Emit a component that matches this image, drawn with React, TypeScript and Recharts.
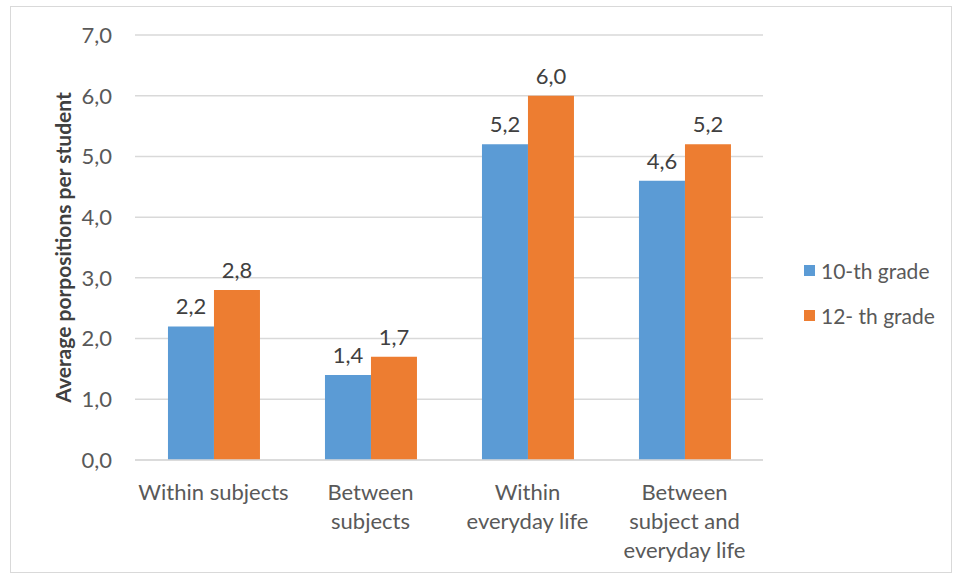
import { BarChart, Bar, XAxis, YAxis, CartesianGrid, LabelList } from 'recharts'

const categories = ['Within subjects', 'Between\nsubjects', 'Within\neveryday life', 'Between\nsubject and\neveryday life']
const grade10 = [2.2, 1.4, 5.2, 4.6]
const grade12 = [2.8, 1.7, 6.0, 5.2]
const yTicks = [0, 1, 2, 3, 4, 5, 6, 7]

const data = categories.map((name, i) => ({ name, g10: grade10[i], g12: grade12[i] }))

const FONT = 'Lato, "Open Sans", sans-serif'
const fmt = (v: number) => v.toFixed(1).replace('.', ',')

function CategoryTick(props: any) {
  const { x, y, payload } = props
  const lines = String(payload.value).split('\n')
  return (
    <text x={x} y={y + 32} textAnchor="middle" fill="#595959" fontSize={22} fontFamily={FONT}>
      {lines.map((l, i) => (
        <tspan key={i} x={x} dy={i === 0 ? 0 : 29}>{l}</tspan>
      ))}
    </text>
  )
}

function LegendBox() {
  const items = [
    { label: '10-th grade', color: '#5B9BD5' },
    { label: '12- th grade', color: '#ED7D31' },
  ]
  return (
    <div style={{ position: 'absolute', left: 804, top: 248, fontFamily: FONT, fontSize: 21, color: '#595959' }}>
      {items.map(it => (
        <div key={it.label} style={{ display: 'flex', alignItems: 'center', height: 45 }}>
          <span style={{ width: 11, height: 11, background: it.color, marginRight: 6, display: 'inline-block' }} />
          {it.label}
        </div>
      ))}
    </div>
  )
}

export default function App() {
  return (
    <div style={{ position: 'absolute', left: 0, top: 0, width: 958, height: 578, background: '#fff' }}>
      <div style={{ position: 'absolute', left: 10, top: 6, width: 940, height: 565, border: '1px solid #d9d9d9' }} />
      <BarChart
        width={958}
        height={578}
        data={data}
        margin={{ top: 35, right: 195, bottom: 0, left: 0 }}
        barCategoryGap="21%"
        barGap={0}
      >
        <CartesianGrid vertical={false} stroke="#d9d9d9" strokeWidth={1.5} />
        <XAxis
          dataKey="name"
          tick={<CategoryTick />}
          tickLine={false}
          axisLine={{ stroke: '#d9d9d9', strokeWidth: 1.5 }}
          interval={0}
          height={118}
        />
        <YAxis
          width={135}
          domain={[0, 7]}
          ticks={yTicks}
          tickFormatter={fmt}
          tickLine={false}
          axisLine={false}
          tickMargin={17}
          tick={{ fill: '#595959', fontSize: 22, fontFamily: FONT }}
          label={{
            value: 'Average porpositions per student',
            angle: -90,
            position: 'center',
            dx: -4,
            style: { fill: '#404040', fontSize: 21, fontWeight: 700, fontFamily: FONT, textAnchor: 'middle' },
          }}
        />
        <Bar dataKey="g10" name="10-th grade" fill="#5B9BD5" isAnimationActive={false}>
          <LabelList dataKey="g10" position="top" offset={12} formatter={(v: any) => fmt(Number(v))} style={{ fill: '#404040', fontSize: 22, fontFamily: FONT }} />
        </Bar>
        <Bar dataKey="g12" name="12- th grade" fill="#ED7D31" isAnimationActive={false}>
          <LabelList dataKey="g12" position="top" offset={12} formatter={(v: any) => fmt(Number(v))} style={{ fill: '#404040', fontSize: 22, fontFamily: FONT }} />
        </Bar>
      </BarChart>
      <LegendBox />
    </div>
  )
}
